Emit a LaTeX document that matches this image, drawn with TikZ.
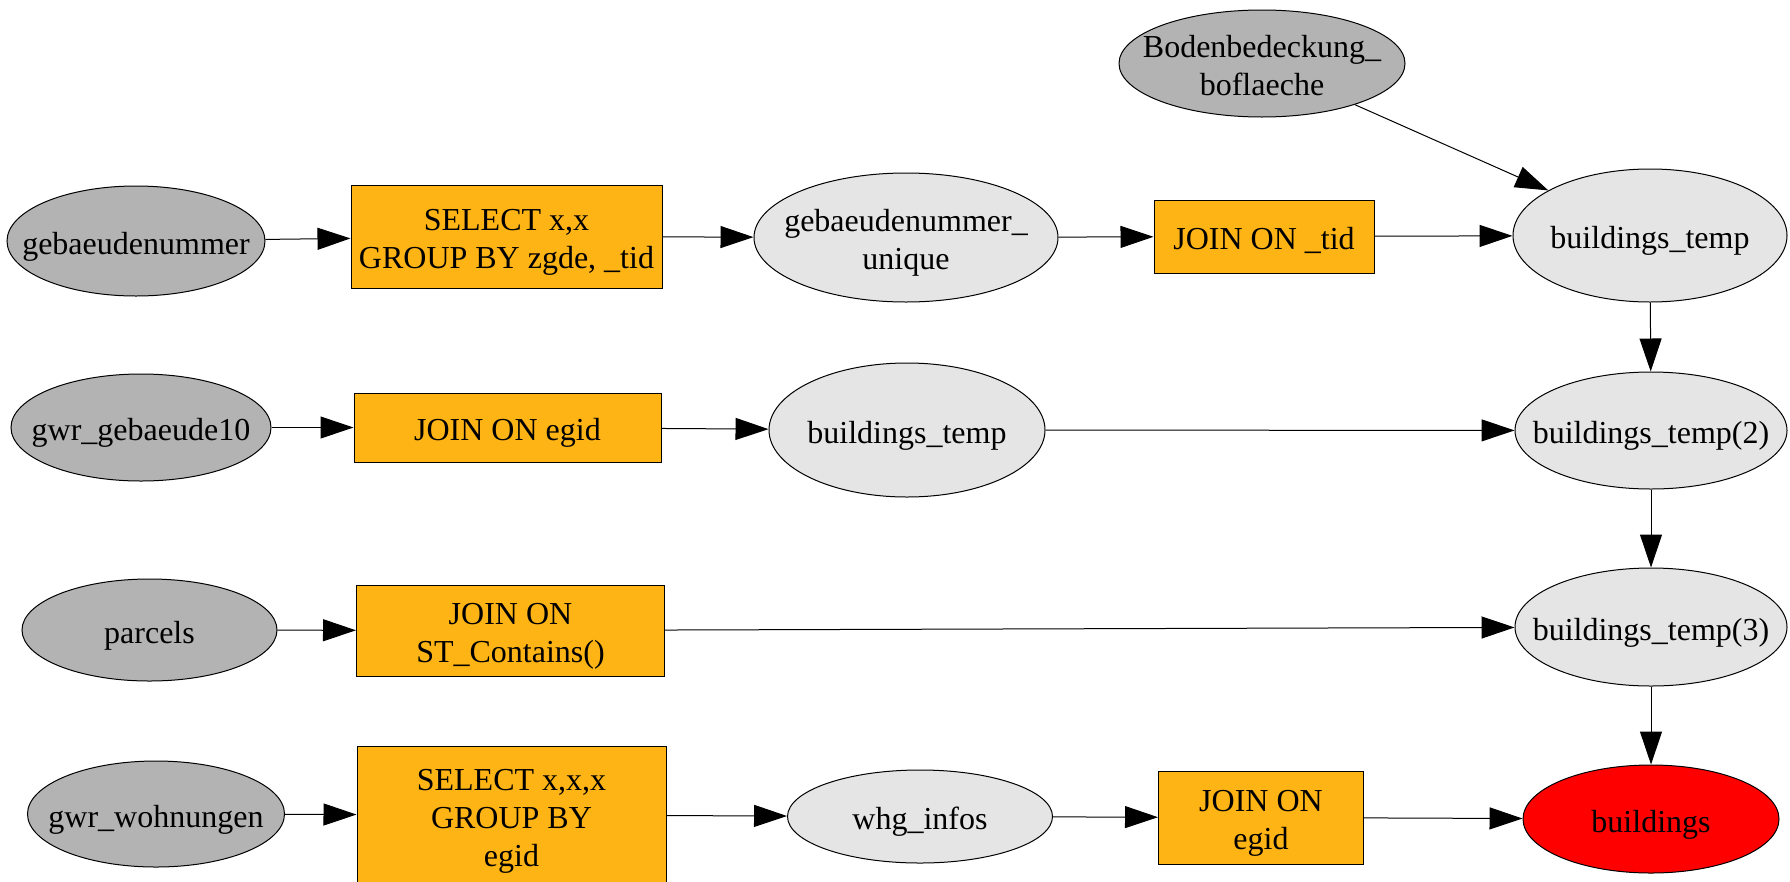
\documentclass[tikz,border=0pt]{standalone}
\usepackage{fontspec}
\setmainfont{Liberation Serif}
\usetikzlibrary{shapes.geometric,arrows.meta}
\definecolor{srcgray}{HTML}{B3B3B3}
\definecolor{midgray}{HTML}{E5E5E5}
\definecolor{opfill}{HTML}{FFB415}
\definecolor{resred}{HTML}{FF0000}
% fixed height above the first line and depth below the last one,
% so every text block sits at the same baseline offset from its node centre
\newcommand\topstrut{\rule{0pt}{34pt}}
\newcommand\botstrut{\rule[-8pt]{0pt}{8pt}}
\newcommand\txtlines[1]{\topstrut#1\botstrut}
\begin{document}
\begin{tikzpicture}[x=1pt,y=-1pt,
  txt/.style={font=\fontsize{32}{38}\selectfont, align=center, inner sep=0pt},
  every label/.style={txt},
  source/.style={ellipse, draw, fill=srcgray, line width=1pt, inner sep=0pt},
  inter/.style={ellipse, draw, fill=midgray, line width=1pt, inner sep=0pt},
  result/.style={ellipse, draw, fill=resred, line width=1pt, inner sep=0pt},
  op/.style={rectangle, draw, fill=opfill, line width=1pt, txt},
  flow/.style={-{Triangle[length=33pt,width=22pt]}, line width=1pt},
]
\useasboundingbox (0,0) rectangle (1790,881);

% source tables
\node[source, minimum width=286, minimum height=107, label=center:{\txtlines{Bodenbedeckung\_\\boflaeche}}] (bod) at (1262,63.5) {};
\node[source, minimum width=258, minimum height=110, label=center:{\txtlines{gebaeudenummer}}] (geb) at (136,241) {};
\node[source, minimum width=260, minimum height=107, label=center:{\txtlines{gwr\_gebaeude10}}] (gwr10) at (141,427.5) {};
\node[source, minimum width=255, minimum height=102, label=center:{\txtlines{parcels}}] (parc) at (149.5,630) {};
\node[source, minimum width=257, minimum height=106, label=center:{\txtlines{gwr\_wohnungen}}] (wohn) at (156,814) {};

% operations
\node[op, minimum width=311, minimum height=103] (sel1) at (506.5,236.5) {\txtlines{SELECT x,x\\GROUP BY zgde, \_tid}};
\node[op, minimum width=220, minimum height=73] (jtid) at (1264,236.5) {\txtlines{JOIN ON \_tid}};
\node[op, minimum width=307, minimum height=69] (jegid) at (507.5,427.5) {\txtlines{JOIN ON egid}};
\node[op, minimum width=308, minimum height=91] (jst) at (510.5,630.5) {\txtlines{JOIN ON\\ST\_Contains()}};
\node[op, minimum width=309, minimum height=138] (sel2) at (511.5,815) {\txtlines{SELECT x,x,x\\GROUP BY\\egid}};
\node[op, minimum width=205, minimum height=93] (jegid2) at (1261,817.5) {\txtlines{JOIN ON\\egid}};

% intermediate tables
\node[inter, minimum width=304, minimum height=129, label=center:{\txtlines{gebaeudenummer\_\\unique}}] (gebu) at (906,237.5) {};
\node[inter, minimum width=274, minimum height=133, label=center:{\txtlines{buildings\_temp}}] (bt1) at (1650,235.5) {};
\node[inter, minimum width=276, minimum height=134, label=center:{\txtlines{buildings\_temp}}] (bt) at (907,430) {};
\node[inter, minimum width=272, minimum height=117, label=center:{\txtlines{buildings\_temp(2)}}] (bt2) at (1651,430.5) {};
\node[inter, minimum width=272, minimum height=118, label=center:{\txtlines{buildings\_temp(3)}}] (bt3) at (1651,627) {};
\node[inter, minimum width=265, minimum height=93, label=center:{\txtlines{whg\_infos}}] (whg) at (920,816.5) {};

% final table
\node[result, minimum width=256, minimum height=108, label=center:{\txtlines{buildings}}] (bldg) at (1651,819) {};

% data flow
\draw[flow] (geb) -- (sel1);
\draw[flow] (sel1) -- (gebu);
\draw[flow] (gebu) -- (jtid);
\draw[flow] (jtid) -- (bt1);
\draw[flow] (bod) -- (bt1);
\draw[flow] (bt1) -- (bt2);
\draw[flow] (gwr10) -- (jegid);
\draw[flow] (jegid) -- (bt);
\draw[flow] (bt) -- (bt2);
\draw[flow] (bt2) -- (bt3);
\draw[flow] (parc) -- (jst);
\draw[flow] (jst) -- (bt3);
\draw[flow] (bt3) -- (bldg);
\draw[flow] (wohn) -- (sel2);
\draw[flow] (sel2) -- (whg);
\draw[flow] (whg) -- (jegid2);
\draw[flow] (jegid2) -- (bldg);
\end{tikzpicture}
\end{document}
